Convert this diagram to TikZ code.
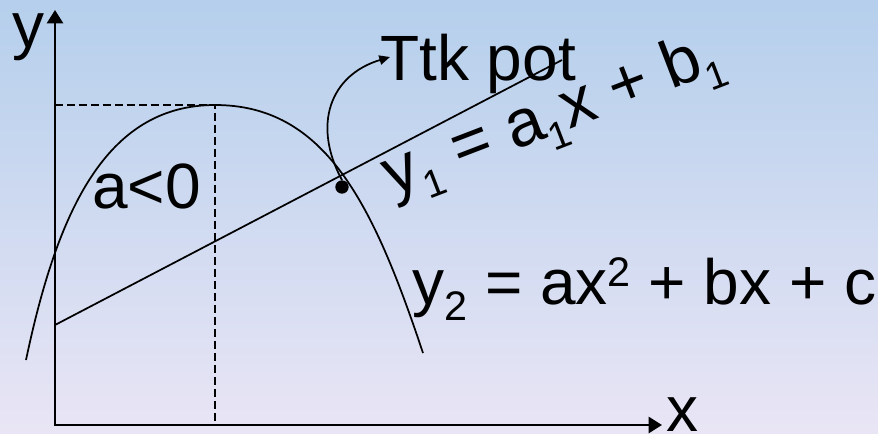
\documentclass[tikz,border=0pt]{standalone}
\usepackage{fontspec}
\setmainfont{Liberation Sans}
\usepackage{tikz}
\usetikzlibrary{arrows.meta, calc}

\definecolor{bgtop}{RGB}{181,207,236}
\definecolor{bgbot}{RGB}{233,229,245}

\newcommand{\lo}[1]{\raisebox{-12pt}{\fontsize{31}{31}\selectfont #1}}
\newcommand{\los}[1]{\raisebox{-12pt}{\fontsize{29}{29}\selectfont #1}}
\newcommand{\hi}[1]{\raisebox{13pt}{\fontsize{31}{31}\selectfont #1}}

\tikzset{
  axis/.style={line width=2pt, {Triangle[length=10pt,width=12pt]}-{Triangle[length=10pt,width=12pt]}},
  curve/.style={line width=1.3pt},
  guide/.style={line width=1.5pt, dash pattern=on 6pt off 3pt},
  label/.style={inner sep=0pt, anchor=base west, font=\fontsize{48}{52}\selectfont},
}

\begin{document}
\begin{tikzpicture}[x=0.75pt, y=-0.75pt]
  % Background
  \shade[top color=bgtop, bottom color=bgbot] (0,0) rectangle (878,433);

  % Axes
  \coordinate (O) at (55,425);
  \coordinate (Ytip) at (55,10);
  \coordinate (Xtip) at (662,425);
  \draw[axis] (Ytip) -- (O) -- (Xtip);
  \node[label] (ylab) at (12,47) {y};
  \node[label] (xlab) at (666,431) {x};

  % Vertex guides
  \coordinate (V) at (215,105);
  \draw[guide] (O |- V) -- (V) -- (V |- O);

  % Parabola y2
  \draw[curve] (26,360) .. controls (57,213) and (105,105) .. (V)
    .. controls (325,105) and (373,203) .. (423,353);

  % Straight line y1
  \coordinate (L1) at (55,325);
  \coordinate (L2) at (562,60);
  \draw[curve] (L1) -- (L2);

  % Point of interest
  \node[circle, fill, inner sep=0pt, minimum size=10pt] (P) at (342,187) {};

  % Labels
  \node[label] (sign) at (92,208) {a<0};
  \node[label] (ttk) at (380,80) {Ttk pot};
  \node[label, font=\fontsize{50}{54}\selectfont, rotate=21] (line1) at (392,197)
    {y\los{1} = a\los{1}x + b\los{1}};
  \node[label] (parab) at (412,304) {y\lo{2} = ax\hi{2} + bx + c};

  % Arrow to Ttk pot
  \draw[curve, -{Triangle[length=8pt,width=7pt]}] (P.north)
    .. controls (312,125) and (330,75) .. ($(ttk.base west)+(10,-23)$);
\end{tikzpicture}
\end{document}
